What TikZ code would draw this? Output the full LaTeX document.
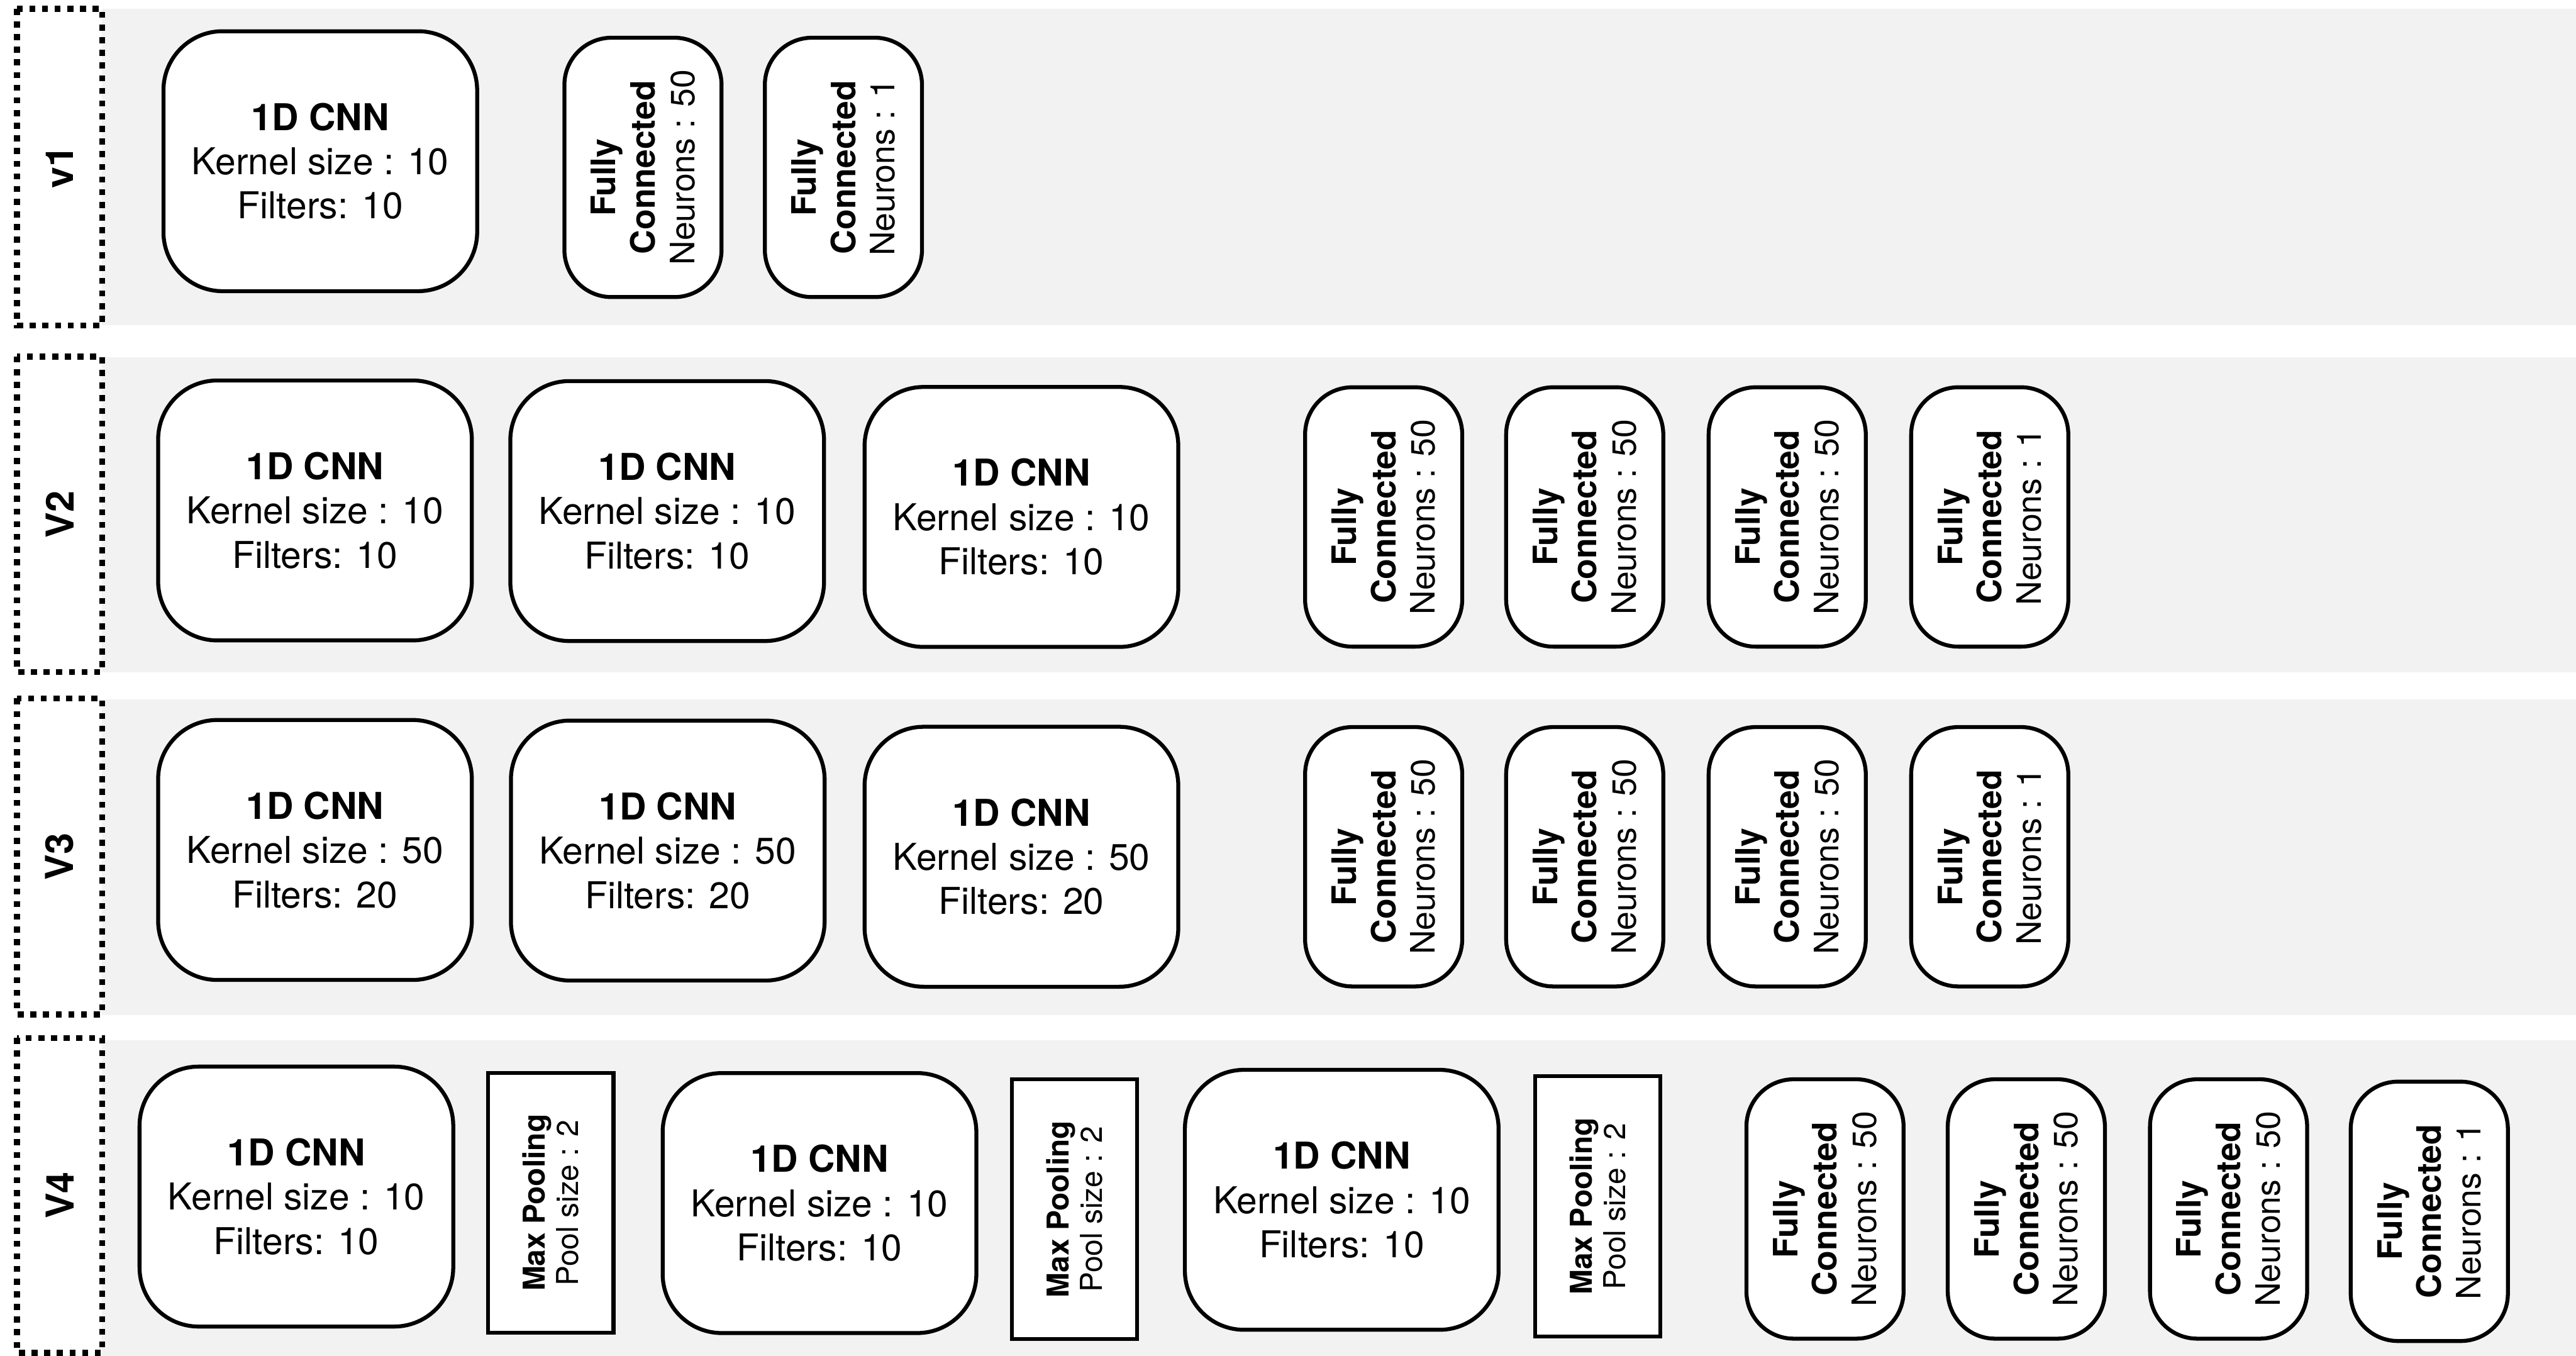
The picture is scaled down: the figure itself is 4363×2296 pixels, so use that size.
\documentclass[tikz,border=0pt]{standalone}
\usepackage{fontspec}
\setmainfont{TeX Gyre Heros}
\definecolor{bandgray}{RGB}{242,242,242}
\begin{document}
\begin{tikzpicture}[x=0.01cm,y=-0.01cm,
  box/.style={draw=black, fill=white, line width=1.9pt, inner sep=0pt, align=center},
  cnn/.style={box, rounded corners=1.0cm, minimum width=5.31cm, minimum height=4.40cm,
              font=\fontsize{17.8}{21.3}\selectfont},
  fc/.style={box, rotate=90, rounded corners=0.8cm, minimum width=4.39cm, minimum height=2.66cm,
             font=\fontsize{16.2}{19}\selectfont},
  mp/.style={box, rotate=90, minimum width=4.40cm, minimum height=2.12cm,
             font=\fontsize{14.5}{16}\selectfont},
  lbl/.style={draw=black, line width=2.9pt, dash pattern=on 2.9pt off 3.2pt, rotate=90,
              inner sep=0pt, minimum height=1.44cm, font=\fontsize{18.5}{22}\selectfont\bfseries},
  band/.style={fill=bandgray, draw=none}
]
\useasboundingbox (0,0) rectangle (4363,2296);
\fill[white] (0,0) rectangle (4363,2296);

% bands
\fill[band] (173,15) rectangle (4363,551);
\fill[band] (173,605) rectangle (4363,1139);
\fill[band] (173,1184) rectangle (4363,1719);
\fill[band] (173,1762) rectangle (4363,2296);

% version labels
\node[lbl, minimum width=5.36cm] (L1) at (101,283) {v1};
\node[lbl, minimum width=5.34cm] (L2) at (101,871) {V2};
\node[lbl, minimum width=5.35cm] (L3) at (101,1450.5) {V3};
\node[lbl, minimum width=5.33cm] (L4) at (101,2024.5) {V4};

\newcommand{\cnntext}[2]{\textbf{1D CNN}\\Kernel size : #1\\Filters: #2}
\newcommand{\fctext}[1]{\textbf{Fully\rule{0.6em}{0pt}}\\\textbf{Connected}\\Neurons : #1}
\newcommand{\mptext}{\textbf{Max Pooling}\\Pool size : 2}

% v1
\node[cnn] (a1) at (542.5,273) {\cnntext{10}{10}};
\node[fc] (a2) at (1089,283.5) {\fctext{50}};
\node[fc] (a3) at (1428.5,283.5) {\fctext{1}};

% V2
\node[cnn] (b1) at (533.5,864.5) {\cnntext{10}{10}};
\node[cnn] (b2) at (1130,865.5) {\cnntext{10}{10}};
\node[cnn] (b3) at (1730,875.5) {\cnntext{10}{10}};
\node[fc] (b4) at (2343.5,875.5) {\fctext{50}};
\node[fc] (b5) at (2684,875.5) {\fctext{50}};
\node[fc] (b6) at (3027,875.5) {\fctext{50}};
\node[fc] (b7) at (3370,875.5) {\fctext{1}};

% V3
\node[cnn] (c1) at (533.5,1439.5) {\cnntext{50}{20}};
\node[cnn] (c2) at (1131,1440.5) {\cnntext{50}{20}};
\node[cnn] (c3) at (1730,1451) {\cnntext{50}{20}};
\node[fc] (c4) at (2343.5,1451) {\fctext{50}};
\node[fc] (c5) at (2684,1451) {\fctext{50}};
\node[fc] (c6) at (3027,1451) {\fctext{50}};
\node[fc] (c7) at (3370,1451) {\fctext{1}};

% V4
\node[cnn] (d1) at (502,2026.5) {\cnntext{10}{10}};
\node[mp] (d2) at (933,2037) {\mptext};
\node[cnn] (d3) at (1388,2037.5) {\cnntext{10}{10}};
\node[mp] (d4) at (1820,2048) {\mptext};
\node[cnn] (d5) at (2272.5,2032) {\cnntext{10}{10}};
\node[mp] (d6) at (2706,2043) {\mptext};
\node[fc] (d7) at (3091,2047.5) {\fctext{50}};
\node[fc] (d8) at (3432,2047.5) {\fctext{50}};
\node[fc] (d9) at (3774.5,2047.5) {\fctext{50}};
\node[fc] (d10) at (4114.5,2051.5) {\fctext{1}};
\end{tikzpicture}
\end{document}
